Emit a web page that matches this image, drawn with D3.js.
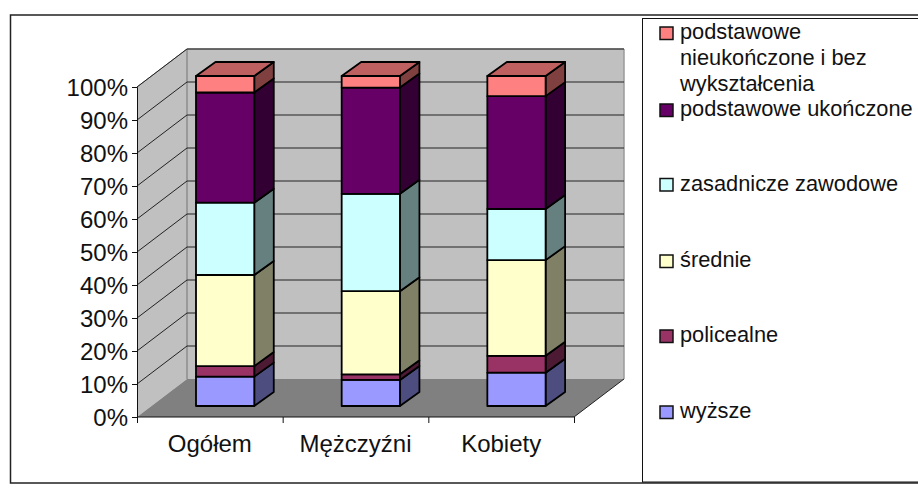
<!DOCTYPE html>
<html lang="pl">
<head>
  <meta charset="UTF-8">
  <title>Wykształcenie</title>
  <script src="https://d3js.org/d3.v7.min.js"></script>
  <style>
    html, body { margin: 0; padding: 0; background: #fff; }
    svg { display: block; }
    text { font-family: "Liberation Sans", Arial, sans-serif; fill: #111; }
  </style>
</head>
<body>
  <div id="chart"></div>
  <script>
    const categories = ["Ogółem", "Mężczyźni", "Kobiety"];
    const seriesNames = ["wyższe", "policealne", "średnie", "zasadnicze zawodowe", "podstawowe ukończone", "podstawowe nieukończone i bez wykształcenia"];
    const wyzsze = [8.9, 7.9, 10.1];
    const policealne = [3.2, 1.7, 5.1];
    const srednie = [27.6, 25.2, 29.0];
    const zasadnicze = [21.9, 29.5, 15.5];
    const ukonczone = [33.4, 32.2, 34.2];
    const nieukonczone = [5.0, 3.5, 6.1];
    const seriesValues = [wyzsze, policealne, srednie, zasadnicze, ukonczone, nieukonczone];
    const frontColors = ["#9999ff", "#993366", "#ffffcc", "#ccffff", "#660066", "#ff8080"];
    const yTicks = [0, 10, 20, 30, 40, 50, 60, 70, 80, 90, 100];
    const legendLines = [
      ["podstawowe", "nieukończone i bez", "wykształcenia"],
      ["podstawowe ukończone"],
      ["zasadnicze zawodowe"],
      ["średnie"],
      ["policealne"],
      ["wyższe"]
    ];
    const legendY = [33, 110, 184.5, 261, 336, 412];

    const width = 918, height = 492;
    const depthX = 50, depthY = -38;   // oblique offset of the whole floor

    const svg = d3.select("#chart").append("svg")
      .attr("width", width)
      .attr("height", height);

    const x = d3.scaleBand().domain(categories).range([137, 574]).paddingInner(0.6).paddingOuter(0.3);
    const y = d3.scaleLinear().domain([0, 100]).range([417, 87]);

    const poly = (pts, fill, stroke, sw) => svg.append("polygon")
      .attr("points", pts.map(p => p.join(",")).join(" "))
      .attr("fill", fill)
      .attr("stroke", stroke || "none")
      .attr("stroke-width", sw || 0)
      .attr("stroke-linejoin", "round");

    // frame
    svg.append("rect").attr("x", 10.5).attr("y", 15).attr("width", 930).attr("height", 468)
      .attr("fill", "#fff").attr("stroke", "#222").attr("stroke-width", 1.5);

    // walls and floor
    const x0 = 137, x1 = 574, yB = y(0), yT = y(100);
    poly([[x0, yB], [x0 + depthX, yB + depthY], [x0 + depthX, yT + depthY], [x0, yT]], "#c0c0c0");
    poly([[x0 + depthX, yB + depthY], [x1 + depthX, yB + depthY], [x1 + depthX, yT + depthY], [x0 + depthX, yT + depthY]], "#c0c0c0");
    poly([[x0, yB], [x1, yB], [x1 + depthX, yB + depthY], [x0 + depthX, yB + depthY]], "#808080");

    // wall outlines
    const line = (x1_, y1_, x2_, y2_, c, w) => svg.append("line")
      .attr("x1", x1_).attr("y1", y1_).attr("x2", x2_).attr("y2", y2_)
      .attr("stroke", c).attr("stroke-width", w);
    line(x0, yT, x0 + depthX, yT + depthY, "#808080", 1);
    line(x0 + depthX, yT + depthY, x1 + depthX, yT + depthY, "#9a9a9a", 1.5);
    line(x0 + depthX, yT + depthY, x0 + depthX, yB + depthY, "#8c8c8c", 1.5);
    line(x1 + depthX, yT + depthY, x1 + depthX, yB + depthY, "#9a9a9a", 1.5);

    // gridlines
    yTicks.slice(1).forEach(t => {
      line(x0, y(t), x0 + depthX, y(t) + depthY, "#222", 1);
      line(x0 + depthX, y(t) + depthY, x1 + depthX, y(t) + depthY, "#222", 1);
    });
    line(x1, yB, x1 + depthX, yB + depthY, "#222", 1);

    // axes
    const yAxis = d3.axisLeft(y).tickValues(yTicks).tickFormat(d => d + "%").tickSize(5).tickPadding(4);
    const yG = svg.append("g").attr("transform", `translate(${x0},0)`).call(yAxis);
    yG.selectAll("text").attr("font-size", 24).attr("dy", "0.37em").style("font-family", '"Liberation Sans", Arial, sans-serif');
    yG.selectAll("line, path").attr("stroke", "#111");

    const xAxis = d3.axisBottom(d3.scalePoint().domain(d3.range(4)).range([x0, x1])).tickSize(6).tickFormat("");
    const xG = svg.append("g").attr("transform", `translate(0,${yB})`).call(xAxis);
    xG.selectAll("line, path").attr("stroke", "#111");
    xG.select("path").attr("d", `M${x0},0H${x1}`).attr("stroke-width", 1.2);

    svg.selectAll(".cat").data(categories).join("text")
      .attr("class", "cat")
      .attr("x", d => x(d) + x.bandwidth() / 2)
      .attr("y", 452)
      .attr("text-anchor", "middle")
      .attr("font-size", 24)
      .text(d => d);

    // bars
    const barFrontX = 15.3, barDepthX = 19.5, barFrontY = -11, barDepthY = -14;
    categories.forEach((cat, ci) => {
      const xa = x(cat) + barFrontX;
      const xb = xa + x.bandwidth();
      const dx = barDepthX, dy = barDepthY;
      const oy = barFrontY;
      let cum = 0;
      seriesValues.forEach((vals, si) => {
        const v = vals[ci];
        const ya = y(cum) + oy, yb = y(cum + v) + oy;
        cum += v;
        const c = frontColors[si];
        const rgb = d3.rgb(c);
        const side = d3.rgb(rgb.r * 0.5, rgb.g * 0.5, rgb.b * 0.5).formatHex();
        poly([[xb, ya], [xb + dx, ya + dy], [xb + dx, yb + dy], [xb, yb]], side, "#000", 1.8);
        poly([[xa, ya], [xb, ya], [xb, yb], [xa, yb]], c, "#000", 1.8);
        if (si === seriesValues.length - 1) {
          const top = d3.rgb(rgb.r * 0.75, rgb.g * 0.75, rgb.b * 0.75).formatHex();
          poly([[xa, yb], [xb, yb], [xb + dx, yb + dy], [xa + dx, yb + dy]], top, "#000", 1.8);
        }
      });
    });

    // legend
    svg.append("rect").attr("x", 642.5).attr("y", 18.5).attr("width", 300).attr("height", 463.5)
      .attr("fill", "#fff").attr("stroke", "#111").attr("stroke-width", 1);

    const legendColors = frontColors.slice().reverse();
    const lg = svg.selectAll(".lg").data(legendLines).join("g").attr("class", "lg");
    lg.append("rect")
      .attr("x", 660).attr("y", (d, i) => legendY[i] - 6)
      .attr("width", 13).attr("height", 12.5)
      .attr("fill", (d, i) => legendColors[i])
      .attr("stroke", "#111").attr("stroke-width", 1.5);
    lg.each(function (d, i) {
      d3.select(this).selectAll("text").data(d).join("text")
        .attr("x", 680)
        .attr("y", (t, j) => legendY[i] + 6.3 + j * 26)
        .attr("font-size", 21.8)
        .text(t => t);
    });
  </script>
</body>
</html>
